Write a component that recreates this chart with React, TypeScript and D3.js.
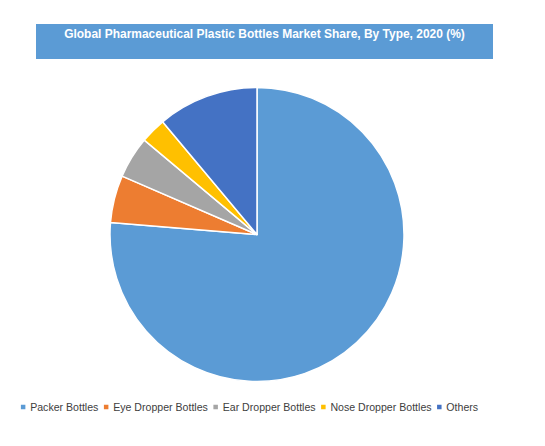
import { useLayoutEffect, useMemo, useRef, useState } from "react";
import * as d3 from "d3";

// slice shares (% of 2020 market)
const categories = [
  "Packer Bottles",
  "Eye Dropper Bottles",
  "Ear Dropper Bottles",
  "Nose Dropper Bottles",
  "Others",
];
const shares = [76.3, 5.2, 4.6, 2.8, 11.1];
const colors = ["#5B9BD5", "#ED7D31", "#A5A5A5", "#FFC000", "#4472C4"];
const title = "Global Pharmaceutical Plastic Bottles Market Share, By Type, 2020 (%)";

const W = 545;
const H = 446;
const CX = 257;
const CY = 234.5;
const R = 147;
const FONT = "'Liberation Sans', Arial, sans-serif";
// Calibri is narrower than the installed sans: squeeze the glyphs a bit
const SQUEEZE = 0.92;

type Slice = { name: string; value: number; color: string };

export default function App() {
  const data: Slice[] = categories.map((name, i) => ({
    name,
    value: shares[i],
    color: colors[i],
  }));

  const arcs = useMemo(
    () =>
      d3
        .pie<Slice>()
        .sort(null)
        .value((d) => d.value)(data),
    // eslint-disable-next-line react-hooks/exhaustive-deps
    []
  );
  const arcGen = d3.arc<d3.PieArcDatum<Slice>>().innerRadius(0).outerRadius(R);

  // natural text widths, measured after first paint
  const textRefs = useRef<(SVGTextElement | null)[]>([]);
  const titleRef = useRef<SVGTextElement | null>(null);
  const [widths, setWidths] = useState<number[]>(categories.map(() => 0));
  const [titleW, setTitleW] = useState(0);
  useLayoutEffect(() => {
    setWidths(textRefs.current.map((t) => (t ? t.getComputedTextLength() : 0)));
    if (titleRef.current) setTitleW(titleRef.current.getComputedTextLength());
  }, []);

  const MARK = 4.5;
  const MARK_GAP = 4.8;
  const ITEM_GAP = 5.5;
  const shown = widths.map((w) => w * SQUEEZE);
  const itemW = shown.map((w) => MARK + MARK_GAP + w);
  const total = d3.sum(itemW) + ITEM_GAP * (itemW.length - 1);
  let cursor = 249.5 - total / 2;
  const legendX = itemW.map((w) => {
    const x = cursor;
    cursor += w + ITEM_GAP;
    return x;
  });
  const LEGEND_Y = 407;

  return (
    <div style={{ position: "fixed", left: 0, top: 0, background: "#fff" }}>
      <svg width={W} height={H} viewBox={`0 0 ${W} ${H}`} style={{ display: "block" }}>
        <rect width={W} height={H} fill="#fff" />

        {/* title band */}
        <rect x={36} y={24} width={457} height={35} fill="#5B9BD5" />
        <text
          ref={titleRef}
          x={264.5}
          y={37.8}
          textAnchor="middle"
          fill="#fff"
          fontFamily={FONT}
          fontSize={13}
          fontWeight="bold"
          textLength={titleW ? titleW * SQUEEZE : undefined}
          lengthAdjust="spacingAndGlyphs"
        >
          {title}
        </text>

        {/* pie */}
        <g transform={`translate(${CX},${CY})`}>
          {arcs.map((a) => (
            <path
              key={a.data.name}
              d={arcGen(a) || ""}
              fill={a.data.color}
              stroke="#fff"
              strokeWidth={1.5}
              strokeLinejoin="round"
            />
          ))}
        </g>

        {/* legend */}
        {data.map((d, i) => (
          <g key={d.name} transform={`translate(${legendX[i]},${LEGEND_Y})`}>
            <rect x={0} y={-MARK / 2} width={MARK} height={MARK} fill={d.color} />
            <text
              ref={(el) => {
                textRefs.current[i] = el;
              }}
              x={MARK + MARK_GAP}
              y={4}
              fontFamily={FONT}
              fontSize={11.5}
              fill="#404040"
              textLength={shown[i] || undefined}
              lengthAdjust="spacingAndGlyphs"
            >
              {d.name}
            </text>
          </g>
        ))}
      </svg>
    </div>
  );
}
